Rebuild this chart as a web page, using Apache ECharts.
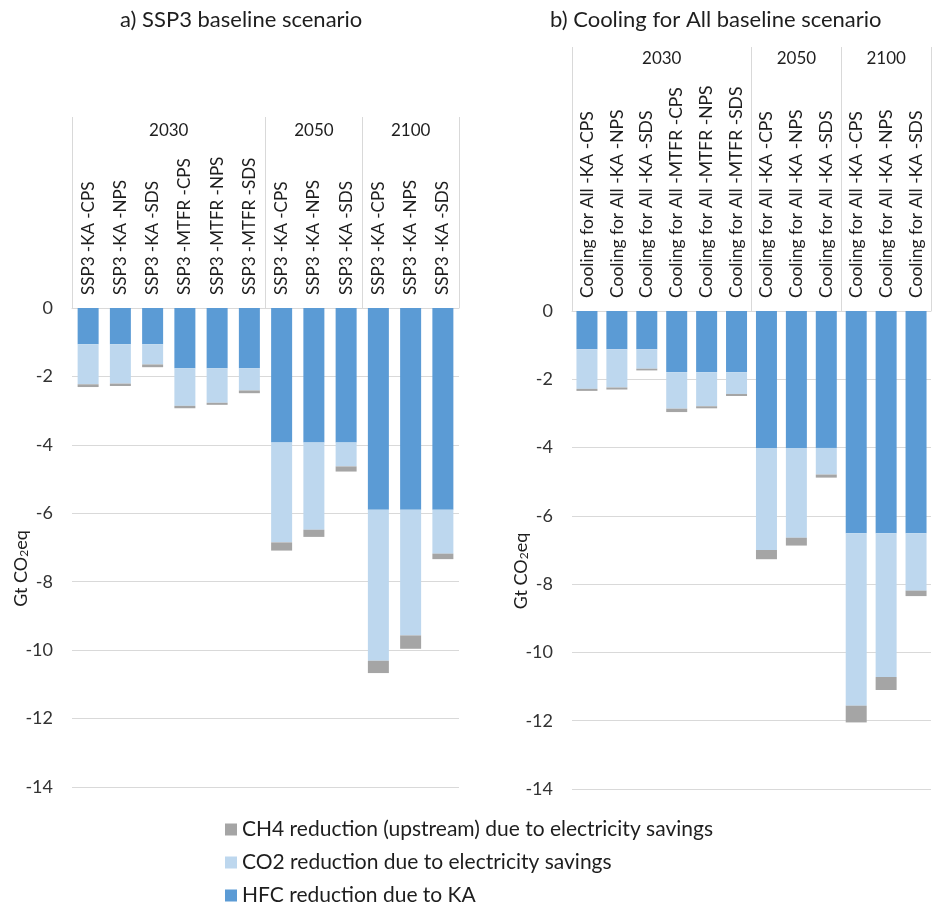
<!DOCTYPE html>
<html><head><meta charset="utf-8">
<script src="https://cdn.jsdelivr.net/npm/echarts@6/dist/echarts.min.js"></script>
<style>html,body{margin:0;padding:0;background:#fff}#c{width:932px;height:912px}</style>
</head><body><div id="c"></div>
<script>
// ---------- data ----------
const leftCategories = ['SSP3 -KA -CPS','SSP3 -KA -NPS','SSP3 -KA -SDS','SSP3 -MTFR -CPS','SSP3 -MTFR -NPS','SSP3 -MTFR -SDS',
  'SSP3 -KA -CPS','SSP3 -KA -NPS','SSP3 -KA -SDS','SSP3 -KA -CPS','SSP3 -KA -NPS','SSP3 -KA -SDS'];
const rightCategories = ['Cooling for All -KA -CPS','Cooling for All -KA -NPS','Cooling for All -KA -SDS','Cooling for All -MTFR -CPS','Cooling for All -MTFR -NPS','Cooling for All -MTFR -SDS',
  'Cooling for All -KA -CPS','Cooling for All -KA -NPS','Cooling for All -KA -SDS','Cooling for All -KA -CPS','Cooling for All -KA -NPS','Cooling for All -KA -SDS'];
const groups = ['2030','2050','2100'];
const groupSizes = [6,3,3];

const leftHFC = [-1.06,-1.06,-1.06,-1.76,-1.76,-1.76,-3.93,-3.93,-3.93,-5.90,-5.90,-5.90];
const leftCO2 = [-1.17,-1.15,-0.59,-1.10,-1.01,-0.65,-2.92,-2.55,-0.70,-4.41,-3.67,-1.28];
const leftCH4 = [-0.08,-0.07,-0.08,-0.07,-0.06,-0.08,-0.24,-0.21,-0.15,-0.36,-0.39,-0.16];

const rightHFC = [-1.12,-1.12,-1.12,-1.79,-1.79,-1.79,-4.01,-4.01,-4.01,-6.51,-6.51,-6.51];
const rightCO2 = [-1.16,-1.12,-0.57,-1.07,-1.00,-0.64,-2.99,-2.63,-0.78,-5.05,-4.21,-1.68];
const rightCH4 = [-0.06,-0.06,-0.05,-0.10,-0.06,-0.06,-0.27,-0.23,-0.09,-0.49,-0.38,-0.16];

const seriesNames = ['CH4 reduction (upstream) due to electricity savings','CO2 reduction due to electricity savings','HFC reduction due to KA'];
const titles = ['a) SSP3 baseline scenario','b) Cooling for All baseline scenario'];
const yMin = -14, yMax = 0, yStep = 2;

// ---------- styling ----------
const FONT = 'Lato';
const TXT = '#1e1e1e';
const AX = '#333333';
const GRIDC = '#D9D9D9';
const colors = {HFC:'#5B9BD5', CO2:'#BDD7EE', CH4:'#A5A5A5'};

function groupAxis(gridIndex, tickLen, labelMargin){
  const bounds=[0]; groupSizes.forEach(s=>bounds.push(bounds[bounds.length-1]+s));
  const centers = groupSizes.map((s,i)=>bounds[i]+s/2);
  return {type:'value', gridIndex, position:'top', min:0, max:bounds[bounds.length-1],
    axisLine:{show:true, onZero:false, lineStyle:{color:GRIDC}},
    axisTick:{show:true, customValues:bounds, length:tickLen, lineStyle:{color:GRIDC}},
    axisLabel:{customValues:centers, margin:labelMargin, formatter:(v)=>groups[centers.indexOf(v)],
      fontSize:17, color:TXT, fontFamily:FONT},
    splitLine:{show:false}};
}
function catAxis(gridIndex, data, fs){
  return {type:'category', gridIndex, position:'top', data,
    axisLine:{show:false}, axisTick:{show:false},
    axisLabel:{rotate:90, interval:0, margin:13, fontSize:fs, color:TXT, fontFamily:FONT}};
}
function valAxis(gridIndex){
  return {type:'value', gridIndex, min:yMin, max:yMax, interval:yStep,
    axisLine:{show:false}, axisTick:{show:false},
    splitLine:{lineStyle:{color:GRIDC}},
    axisLabel:{margin:19, fontSize:18, color:AX, fontFamily:FONT},
    name:'Gt CO{s|2}eq', nameLocation:'middle', nameGap:42, nameMoveOverlap:false,
    nameTextStyle:{fontSize:18, color:TXT, fontFamily:FONT, padding:[0,42,0,0],
      rich:{s:{fontSize:12, fontFamily:FONT, color:TXT, verticalAlign:'bottom'}}}};
}
function bars(xi, yi, stack, hfc, co2, ch4){
  const mk=(name,data,color)=>({type:'bar', name, data, stack, xAxisIndex:xi, yAxisIndex:yi,
    barWidth:21, itemStyle:{color}, emphasis:{disabled:true}});
  return [mk(seriesNames[2],hfc,colors.HFC), mk(seriesNames[1],co2,colors.CO2), mk(seriesNames[0],ch4,colors.CH4)];
}

const chart = echarts.init(document.getElementById('c'));
chart.setOption({
  animation:false,
  backgroundColor:'#fff',
  title:[
    {text:titles[0], left:120, top:9, padding:0, textStyle:{fontSize:22, fontWeight:'normal', color:TXT, fontFamily:FONT}},
    {text:titles[1], left:550, top:9, padding:0, textStyle:{fontSize:22, fontWeight:'normal', color:TXT, fontFamily:FONT}}
  ],
  legend:{orient:'vertical', left:225, top:819, padding:0, itemWidth:12, itemHeight:12, itemGap:12, icon:'rect',
    data:seriesNames, textStyle:{fontSize:21, color:TXT, fontFamily:FONT}},
  grid:[
    {left:72, top:308, width:387, height:479, outerBoundsMode:'none'},
    {left:572, top:311, width:359, height:478, outerBoundsMode:'none'}
  ],
  xAxis:[catAxis(0,leftCategories,17), groupAxis(0,191,169), catAxis(1,rightCategories,17.5), groupAxis(1,264,244)],
  yAxis:[valAxis(0), valAxis(1)],
  series:[].concat(bars(0,0,'L',leftHFC,leftCO2,leftCH4), bars(2,1,'R',rightHFC,rightCO2,rightCH4))
});
</script></body></html>
